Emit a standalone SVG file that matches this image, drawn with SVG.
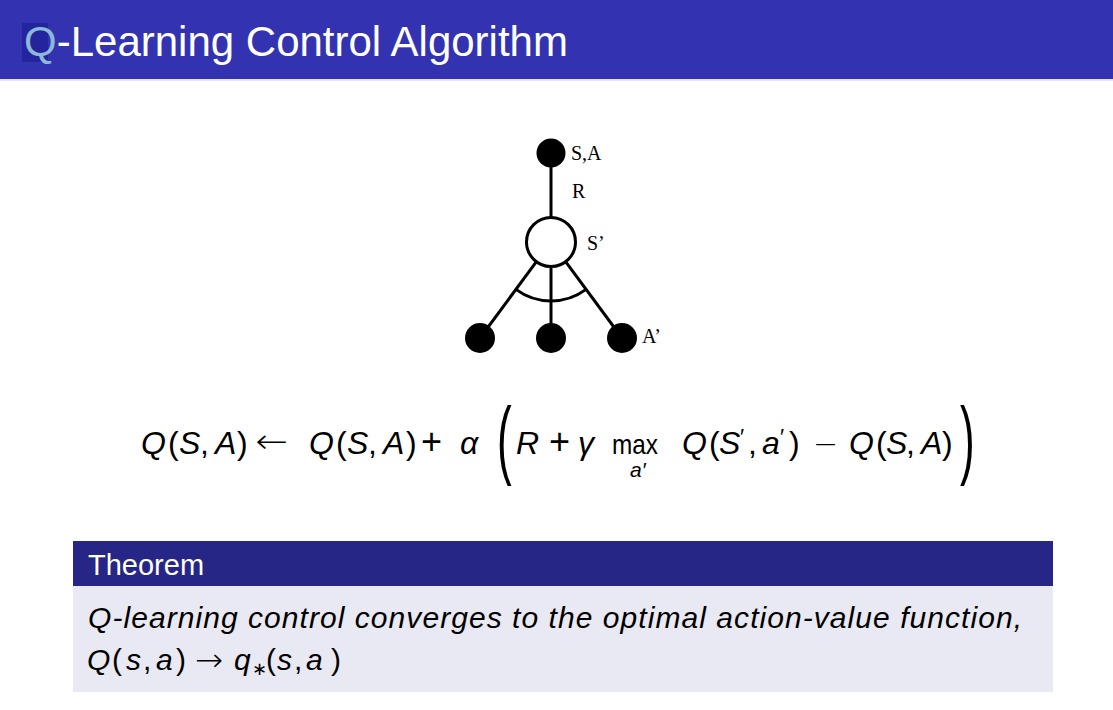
<svg xmlns="http://www.w3.org/2000/svg" width="1113" height="710" viewBox="0 0 1113 710">
<style>
.sans{font-family:"Liberation Sans",Arial,sans-serif;}
.it{font-style:italic;}
.eq{font-family:"Liberation Sans",Arial,sans-serif;font-size:32px;fill:#000;}
.sym{font-family:"DejaVu Sans",sans-serif;font-weight:200;}
.ser{font-family:"Liberation Serif","Times New Roman",serif;font-size:20px;fill:#000;}
.edge{stroke:#000;stroke-width:3;fill:none;}
.dot{fill:#000;}
.th{font-family:"Liberation Sans",Arial,sans-serif;font-size:30px;fill:#000;}
</style>
<rect x="0" y="0" width="1113" height="710" fill="#fff"/>
<g id="header">
<rect x="0" y="0" width="1113" height="79" fill="#3333B2"/>
<rect x="0" y="79" width="1113" height="2" fill="#e4e4f4"/>
<rect x="22" y="23" width="26" height="39" fill="#24249C"/>
<text x="24" y="56" class="sans" font-size="42" fill="#fff"><tspan fill="#8DB8D8">Q</tspan>-Learning Control Algorithm</text>
</g>
<g id="connectors">
<line class="edge" x1="551" y1="153" x2="551" y2="218"/>
<line class="edge" x1="536.4" y1="261.7" x2="480" y2="338"/>
<line class="edge" x1="551" y1="266.5" x2="551" y2="338"/>
<line class="edge" x1="565.6" y1="261.7" x2="622" y2="338"/>
<path class="edge" d="M 515.9 289.4 A 59 59 0 0 0 586.1 289.4" stroke-width="2.5"/>
</g>
<g id="node-sa">
<circle class="dot" cx="551" cy="153" r="14.5"/>
<text x="571" y="160" class="ser">S,A</text>
</g>
<text x="572" y="198" class="ser">R</text>
<g id="node-s2">
<circle cx="551" cy="242" r="24.5" fill="#fff" stroke="#000" stroke-width="3"/>
<text x="587" y="250" class="ser">S’</text>
</g>
<g id="node-a1"><circle class="dot" cx="480" cy="338" r="15"/></g>
<g id="node-a2"><circle class="dot" cx="551" cy="338" r="15"/></g>
<g id="node-a3">
<circle class="dot" cx="622" cy="338" r="15"/>
<text x="642" y="343" class="ser">A’</text>
</g>
<g id="equation" class="eq">
<text x="141" y="454" class="it">Q</text>
<text x="168" y="454">(</text>
<text x="179" y="454" class="it">S</text>
<text x="200" y="454">,</text>
<text x="215" y="454" class="it">A</text>
<text x="237" y="454">)</text>
<text class="sym" font-size="34" transform="translate(255 453) scale(1.15 1)">←</text>
<text x="309" y="454" class="it">Q</text>
<text x="336" y="454">(</text>
<text x="347" y="454" class="it">S</text>
<text x="368" y="454">,</text>
<text x="383" y="454" class="it">A</text>
<text x="406" y="454">)</text>
<text x="421" y="454" font-size="36">+</text>
<text x="460" y="454" class="it">α</text>
<text x="0" y="0" font-size="88" transform="translate(497 468) scale(0.5 1)">(</text>
<text x="516" y="454" class="it">R</text>
<text x="549" y="454" font-size="36">+</text>
<text x="578" y="454" class="it">γ</text>
<text x="612" y="454" font-size="28" textLength="46" lengthAdjust="spacingAndGlyphs">max</text>
<text x="630" y="477" class="it" font-size="21">a′</text>
<text x="682" y="454" class="it">Q</text>
<text x="709" y="454">(</text>
<text x="719" y="454" class="it">S</text>
<text x="740" y="444" font-size="22">′</text>
<text x="748" y="454">,</text>
<text x="762" y="454" class="it">a</text>
<text x="780" y="444" font-size="22">′</text>
<text x="789" y="454">)</text>
<text x="813" y="454" class="sym" font-size="30">−</text>
<text x="849" y="454" class="it">Q</text>
<text x="876" y="454">(</text>
<text x="886" y="454" class="it">S</text>
<text x="906" y="454">,</text>
<text x="921" y="454" class="it">A</text>
<text x="942" y="454">)</text>
<text x="0" y="0" font-size="88" transform="translate(960 468) scale(0.5 1)">)</text>
</g>
<g id="theorem">
<rect x="73" y="541" width="980" height="45" fill="#262687"/>
<rect x="73" y="586" width="980" height="106" fill="#E9E9F3"/>
<text x="88" y="575" class="sans" font-size="29" fill="#fff">Theorem</text>
<text x="88" y="628" class="th it" font-size="31" textLength="934" lengthAdjust="spacing">Q-learning control converges to the optimal action-value function,</text>
<text x="87" y="670" class="th it">Q</text>
<text x="112" y="670" class="th">(</text>
<text x="126" y="670" class="th it">s</text>
<text x="143" y="670" class="th">,</text>
<text x="156" y="670" class="th it">a</text>
<text x="176" y="670" class="th">)</text>
<text class="sym" font-size="32" transform="translate(195 671) scale(1.05 1)">→</text>
<text x="234" y="670" class="th it">q</text>
<text x="252" y="675" font-family="DejaVu Sans, sans-serif" font-size="18">∗</text>
<text x="266" y="670" class="th">(</text>
<text x="277" y="670" class="th it">s</text>
<text x="294" y="670" class="th">,</text>
<text x="306" y="670" class="th it">a</text>
<text x="331" y="670" class="th">)</text>
</g>
</svg>
